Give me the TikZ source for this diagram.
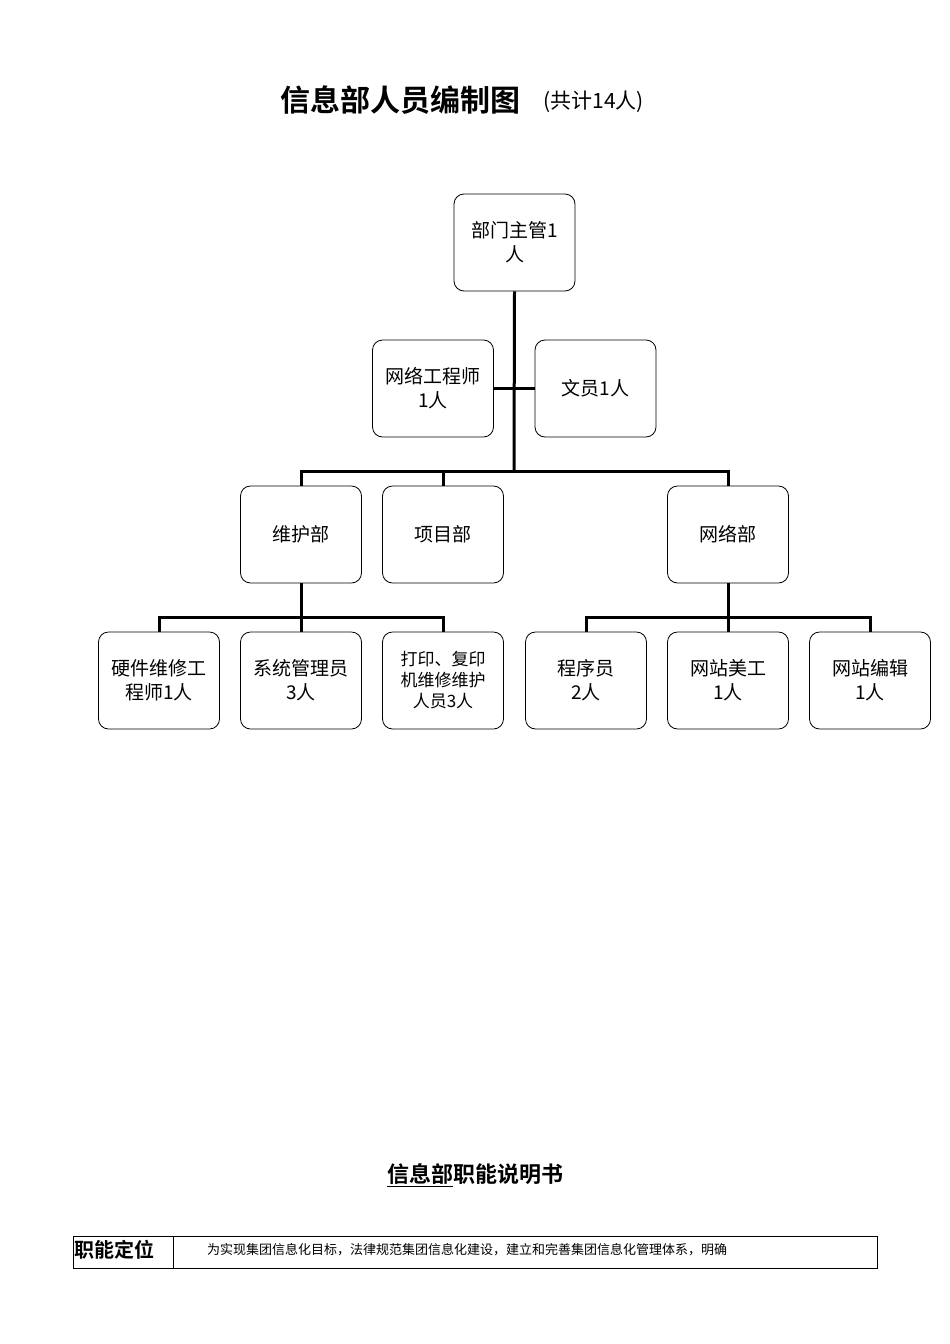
\documentclass[tikz,border=0pt]{standalone}
\usepackage{fontspec}
\setmainfont{Liberation Serif}
\newfontfamily\cjk{Noto Sans CJK SC}
\newfontfamily\cjkb{Noto Sans CJK SC Bold}
\begin{document}
\begin{tikzpicture}[x=1pt,y=-1pt,
  bx/.style={draw,rounded corners=10pt,line width=0.8pt,minimum width=121pt,minimum height=97pt,align=center,font=\fontsize{19}{24}\selectfont\cjk,inner sep=2pt},
  ln/.style={line width=3pt}]
\useasboundingbox (0,0) rectangle (950,1344);
\node[font=\fontsize{30}{36}\selectfont\cjkb] at (400,100) {信息部人员编制图};
\node[font=\fontsize{21}{26}\selectfont\cjk,anchor=west] at (540,102) {(共计14人)};
\node[bx] (top) at (514.5,242.5) {部门主管1\\人};
\node[bx] (net) at (433,388.5) {网络工程师\\1人};
\node[bx] (wy) at (595.5,388.5) {文员1人};
\node[bx] (wh) at (301,534.5) {维护部};
\node[bx] (xm) at (443,534.5) {项目部};
\node[bx] (wl) at (728,534.5) {网络部};
\node[bx] (a) at (159,680.5) {硬件维修工\\程师1人};
\node[bx] (b) at (301,680.5) {系统管理员\\3人};
\node[bx,font=\fontsize{17}{21}\selectfont\cjk] (c) at (443,680.5) {打印、复印\\机维修维护\\人员3人};
\node[bx] (d) at (586,680.5) {程序员\\2人};
\node[bx] (e) at (728,680.5) {网站美工\\1人};
\node[bx] (f) at (870,680.5) {网站编辑\\1人};
\coordinate (j1) at (514,471);
\draw[ln] (top.south) -- (j1);
\draw[ln] (net.east) -- (wy.west);
\draw[ln] (wh.north) -- (301,471) -- (728,471) -- (wl.north);
\draw[ln] (xm.north) -- (443,471);
\draw[ln] (wh.south) -- (301,617);
\draw[ln] (a.north) -- (159,617) -- (443,617) -- (c.north);
\draw[ln] (b.north) -- (301,617);
\draw[ln] (wl.south) -- (728,617);
\draw[ln] (d.north) -- (586,617) -- (870,617) -- (f.north);
\draw[ln] (e.north) -- (728,617);
\node[font=\fontsize{22}{26}\selectfont\cjkb] (t2) at (475,1175) {\underline{信息部}职能说明书};
\draw[line width=0.6pt] (73,1236) rectangle (877,1268) (173,1236) -- (173,1268);
\node[font=\fontsize{20}{24}\selectfont\cjkb,anchor=west,inner sep=0pt] (k) at (74,1250) {职能定位};
\node[font=\fontsize{13}{16}\selectfont\cjk,anchor=west,inner sep=0pt] (v) at (207,1250) {为实现集团信息化目标，法律规范集团信息化建设，建立和完善集团信息化管理体系，明确};
\end{tikzpicture}
\end{document}
